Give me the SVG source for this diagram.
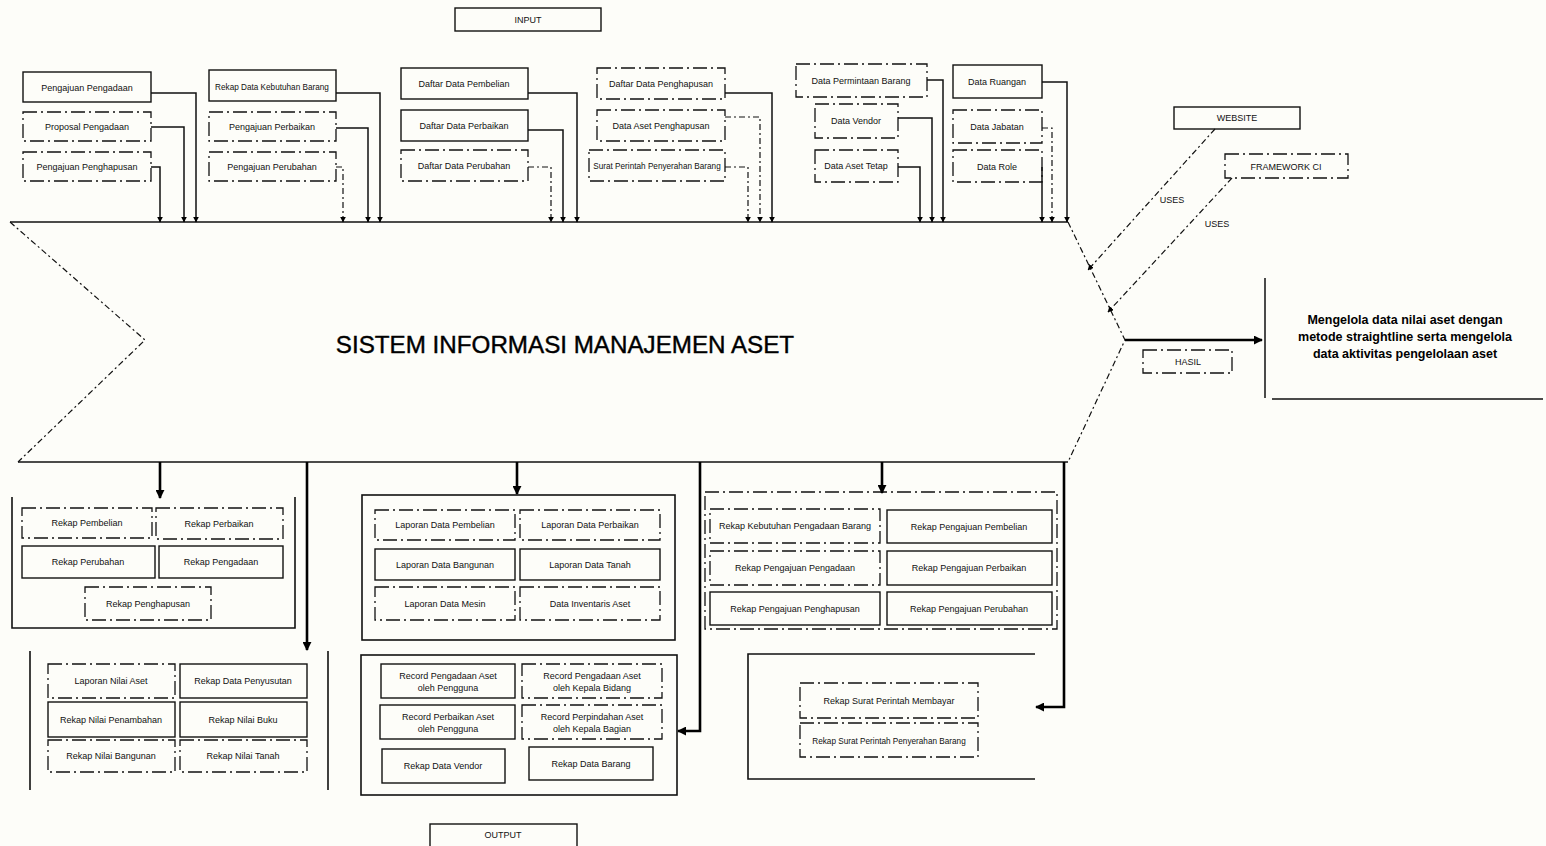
<svg xmlns="http://www.w3.org/2000/svg" width="1546" height="846" viewBox="0 0 1546 846">
<style>
.bg{fill:#fdfdf9}
.box{fill:none;stroke:#111;stroke-width:1.4}
.dbox{fill:none;stroke:#111;stroke-width:1.3;stroke-dasharray:14 4 2 4}
.grp{fill:none;stroke:#111;stroke-width:1.6}
.t{font-family:"Liberation Sans",Arial,sans-serif;font-size:9px;fill:#111;text-anchor:middle}
.ts{font-size:8.2px}
.tb{font-family:"Liberation Sans",Arial,sans-serif;font-size:12.5px;font-weight:bold;fill:#000;text-anchor:middle}
.ttl{font-family:"Liberation Sans",Arial,sans-serif;font-size:24.2px;fill:#000;stroke:#000;stroke-width:0.4;text-anchor:middle}
.c{fill:none;stroke:#111;stroke-width:1.5}
.cd{fill:none;stroke:#111;stroke-width:1.2;stroke-dasharray:6 3 2 3}
.ct{fill:none;stroke:#000;stroke-width:2.6}
</style>
<defs>
<marker id="ah" viewBox="0 0 10 10" refX="9" refY="5" markerWidth="6" markerHeight="6" orient="auto" markerUnits="userSpaceOnUse"><path d="M0,0 L10,5 L0,10 z" fill="#000"/></marker>
<marker id="ahb" viewBox="0 0 10 10" refX="9" refY="5" markerWidth="9" markerHeight="9" orient="auto" markerUnits="userSpaceOnUse"><path d="M0,0 L10,5 L0,10 z" fill="#000"/></marker>
</defs>
<rect class="bg" x="0" y="0" width="1546" height="846"/>

<g id="main-system">
<path class="c" d="M10,222 H1068"/>
<path class="c" d="M18,462 H1068"/>
<path class="cd" d="M10,222 L145,340 L18,462"/>
<path class="cd" d="M1068,222 L1125,340 L1068,462"/>
<text class="ttl" x="565" y="353">SISTEM INFORMASI MANAJEMEN ASET</text>
</g>

<g id="input"><rect class="box" x="455" y="8" width="146" height="23"/><text class="t" x="528" y="23">INPUT</text></g>
<g id="output"><rect class="box" x="430" y="824" width="147" height="26"/><text class="t" x="503" y="838">OUTPUT</text></g>
<g id="website"><rect class="box" x="1174" y="107" width="126" height="22"/><text class="t" x="1237" y="121">WEBSITE</text></g>
<g id="framework"><rect class="dbox" x="1225" y="154" width="123" height="24"/><text class="t" x="1286" y="170">FRAMEWORK CI</text></g>
<g id="hasil"><rect class="dbox" x="1143" y="350" width="89" height="23"/><text class="t" x="1188" y="365">HASIL</text></g>
<g id="tujuan">
<path class="c" d="M1265,278 V398 M1272,399 H1543"/>
<text class="tb" x="1405" y="324">Mengelola data nilai aset dengan</text>
<text class="tb" x="1405" y="341">metode straightline serta mengelola</text>
<text class="tb" x="1405" y="358">data aktivitas pengelolaan aset</text>
</g>

<g id="input-nodes">
<g id="n-pengajuan-pengadaan"><rect class="box" x="23" y="72" width="128" height="30"/><text class="t" x="87" y="91">Pengajuan Pengadaan</text></g>
<g id="n-proposal-pengadaan"><rect class="dbox" x="23" y="112" width="128" height="29"/><text class="t" x="87" y="130">Proposal Pengadaan</text></g>
<g id="n-pengajuan-penghapusan"><rect class="dbox" x="23" y="152" width="128" height="29"/><text class="t" x="87" y="170">Pengajuan Penghapusan</text></g>

<g id="n-rekap-kebutuhan"><rect class="box" x="209" y="70" width="127" height="31"/><text class="t ts" x="272" y="90">Rekap Data Kebutuhan Barang</text></g>
<g id="n-pengajuan-perbaikan"><rect class="dbox" x="209" y="112" width="127" height="29"/><text class="t" x="272" y="130">Pengajuan Perbaikan</text></g>
<g id="n-pengajuan-perubahan"><rect class="dbox" x="209" y="152" width="127" height="29"/><text class="t" x="272" y="170">Pengajuan Perubahan</text></g>

<g id="n-daftar-pembelian"><rect class="box" x="401" y="68" width="127" height="31"/><text class="t" x="464" y="87">Daftar Data Pembelian</text></g>
<g id="n-daftar-perbaikan"><rect class="box" x="401" y="110" width="127" height="31"/><text class="t" x="464" y="129">Daftar Data Perbaikan</text></g>
<g id="n-daftar-perubahan"><rect class="dbox" x="401" y="150" width="127" height="31"/><text class="t" x="464" y="169">Daftar Data Perubahan</text></g>

<g id="n-daftar-penghapusan"><rect class="dbox" x="597" y="68" width="128" height="31"/><text class="t" x="661" y="87">Daftar Data Penghapusan</text></g>
<g id="n-data-aset-penghapusan"><rect class="dbox" x="597" y="110" width="128" height="31"/><text class="t" x="661" y="129">Data Aset Penghapusan</text></g>
<g id="n-surat-perintah"><rect class="dbox" x="589" y="150" width="136" height="31"/><text class="t ts" x="657" y="169">Surat Perintah Penyerahan Barang</text></g>

<g id="n-data-permintaan"><rect class="dbox" x="796" y="64" width="131" height="33"/><text class="t" x="861" y="84">Data Permintaan Barang</text></g>
<g id="n-data-vendor"><rect class="dbox" x="815" y="104" width="83" height="34"/><text class="t" x="856" y="124">Data Vendor</text></g>
<g id="n-data-aset-tetap"><rect class="dbox" x="815" y="150" width="83" height="32"/><text class="t" x="856" y="169">Data Aset Tetap</text></g>

<g id="n-data-ruangan"><rect class="box" x="953" y="65" width="89" height="33"/><text class="t" x="997" y="85">Data Ruangan</text></g>
<g id="n-data-jabatan"><rect class="dbox" x="953" y="110" width="89" height="33"/><text class="t" x="997" y="130">Data Jabatan</text></g>
<g id="n-data-role"><rect class="dbox" x="953" y="150" width="89" height="32"/><text class="t" x="997" y="170">Data Role</text></g>
</g>

<g id="output-nodes">
<g id="g-rekap-1">
<path class="grp" d="M12,497 V628 H295 V497"/>
<rect class="dbox" x="22" y="508" width="130" height="30"/><text class="t" x="87" y="526">Rekap Pembelian</text>
<rect class="dbox" x="156" y="508" width="127" height="31"/><text class="t" x="219" y="527">Rekap Perbaikan</text>
<rect class="box" x="22" y="546" width="133" height="32"/><text class="t" x="88" y="565">Rekap Perubahan</text>
<rect class="box" x="159" y="546" width="124" height="32"/><text class="t" x="221" y="565">Rekap Pengadaan</text>
<rect class="dbox" x="85" y="587" width="126" height="33"/><text class="t" x="148" y="607">Rekap Penghapusan</text>
</g>
<g id="g-nilai">
<path class="grp" d="M30,651 V790 M328,651 V790"/>
<rect class="dbox" x="48" y="664" width="127" height="34"/><text class="t" x="111" y="684">Laporan Nilai Aset</text>
<rect class="box" x="180" y="664" width="127" height="34"/><text class="t" x="243" y="684">Rekap Data Penyusutan</text>
<rect class="box" x="48" y="702" width="127" height="35"/><text class="t" x="111" y="723">Rekap Nilai Penambahan</text>
<rect class="box" x="180" y="702" width="127" height="35"/><text class="t" x="243" y="723">Rekap Nilai Buku</text>
<rect class="dbox" x="48" y="740" width="127" height="32"/><text class="t" x="111" y="759">Rekap Nilai Bangunan</text>
<rect class="dbox" x="180" y="740" width="127" height="32"/><text class="t" x="243" y="759">Rekap Nilai Tanah</text>
</g>
<g id="g-laporan">
<rect class="grp" x="362" y="495" width="313" height="145"/>
<rect class="dbox" x="375" y="510" width="140" height="30"/><text class="t" x="445" y="528">Laporan Data Pembelian</text>
<rect class="dbox" x="520" y="510" width="140" height="30"/><text class="t" x="590" y="528">Laporan Data Perbaikan</text>
<rect class="box" x="375" y="549" width="140" height="31"/><text class="t" x="445" y="568">Laporan Data Bangunan</text>
<rect class="box" x="520" y="549" width="140" height="31"/><text class="t" x="590" y="568">Laporan Data Tanah</text>
<rect class="dbox" x="375" y="587" width="140" height="33"/><text class="t" x="445" y="607">Laporan Data Mesin</text>
<rect class="dbox" x="520" y="587" width="140" height="33"/><text class="t" x="590" y="607">Data Inventaris Aset</text>
</g>
<g id="g-record">
<rect class="grp" x="361" y="655" width="316" height="140"/>
<rect class="box" x="381" y="664" width="134" height="34"/><text class="t" x="448" y="679">Record Pengadaan Aset</text><text class="t" x="448" y="691">oleh Pengguna</text>
<rect class="dbox" x="522" y="664" width="140" height="34"/><text class="t" x="592" y="679">Record Pengadaan Aset</text><text class="t" x="592" y="691">oleh Kepala Bidang</text>
<rect class="box" x="380" y="705" width="135" height="34"/><text class="t" x="448" y="720">Record Perbaikan Aset</text><text class="t" x="448" y="732">oleh Pengguna</text>
<rect class="dbox" x="522" y="705" width="140" height="34"/><text class="t" x="592" y="720">Record Perpindahan Aset</text><text class="t" x="592" y="732">oleh Kepala Bagian</text>
<rect class="box" x="382" y="749" width="123" height="34"/><text class="t" x="443" y="769">Rekap Data Vendor</text>
<rect class="box" x="529" y="747" width="124" height="33"/><text class="t" x="591" y="767">Rekap Data Barang</text>
</g>
<g id="g-pengajuan">
<rect class="dbox" x="705" y="492" width="352" height="137"/>
<rect class="dbox" x="710" y="509" width="170" height="34"/><text class="t" x="795" y="529">Rekap Kebutuhan Pengadaan Barang</text>
<rect class="box" x="887" y="510" width="165" height="33"/><text class="t" x="969" y="530">Rekap Pengajuan Pembelian</text>
<rect class="dbox" x="710" y="551" width="170" height="34"/><text class="t" x="795" y="571">Rekap Pengajuan Pengadaan</text>
<rect class="box" x="887" y="551" width="165" height="34"/><text class="t" x="969" y="571">Rekap Pengajuan Perbaikan</text>
<rect class="box" x="710" y="592" width="170" height="33"/><text class="t" x="795" y="612">Rekap Pengajuan Penghapusan</text>
<rect class="box" x="887" y="592" width="165" height="33"/><text class="t" x="969" y="612">Rekap Pengajuan Perubahan</text>
</g>
<g id="g-surat">
<path class="grp" d="M1035,654 H748 V779 H1035"/>
<rect class="dbox" x="800" y="683" width="178" height="35"/><text class="t" x="889" y="704">Rekap Surat Perintah Membayar</text>
<rect class="dbox" x="800" y="723" width="178" height="34"/><text class="t ts" x="889" y="744">Rekap Surat Perintah Penyerahan Barang</text>
</g>
</g>

<g id="connectors">
<path class="c" marker-end="url(#ah)" d="M151,93 H196 V222"/>
<path class="c" marker-end="url(#ah)" d="M151,127 H184 V222"/>
<path class="c" marker-end="url(#ah)" d="M151,167 H160 V222"/>
<path class="c" marker-end="url(#ah)" d="M336,93 H380 V222"/>
<path class="c" marker-end="url(#ah)" d="M336,128 H368 V222"/>
<path class="cd" marker-end="url(#ah)" d="M336,167 H343 V222"/>
<path class="c" marker-end="url(#ah)" d="M528,93 H577 V222"/>
<path class="c" marker-end="url(#ah)" d="M528,130 H563 V222"/>
<path class="cd" marker-end="url(#ah)" d="M528,167 H551 V222"/>
<path class="c" marker-end="url(#ah)" d="M725,93 H772 V222"/>
<path class="cd" marker-end="url(#ah)" d="M725,117 H760 V222"/>
<path class="cd" marker-end="url(#ah)" d="M725,167 H748 V222"/>
<path class="c" marker-end="url(#ah)" d="M927,80 H943 V222"/>
<path class="c" marker-end="url(#ah)" d="M898,118 H932 V222"/>
<path class="c" marker-end="url(#ah)" d="M898,167 H920 V222"/>
<path class="c" marker-end="url(#ah)" d="M1042,82 H1067 V222"/>
<path class="cd" marker-end="url(#ah)" d="M1042,128 H1052 V222"/>
<path class="c" marker-end="url(#ah)" d="M1042,167 V222"/>

<path class="cd" marker-end="url(#ah)" d="M1215,129 L1088,270"/>
<path class="cd" marker-end="url(#ah)" d="M1232,178 L1108,312"/>
<text class="t" x="1172" y="203">USES</text>
<text class="t" x="1217" y="227">USES</text>
<path class="ct" marker-end="url(#ahb)" d="M1125,340 H1262"/>

<path class="ct" marker-end="url(#ahb)" d="M160,462 V498"/>
<path class="ct" marker-end="url(#ahb)" d="M307,462 V650"/>
<path class="ct" marker-end="url(#ahb)" d="M517,462 V494"/>
<path class="ct" marker-end="url(#ahb)" d="M700,462 V731 H678"/>
<path class="ct" marker-end="url(#ahb)" d="M882,462 V493"/>
<path class="ct" marker-end="url(#ahb)" d="M1064,462 V707 H1036"/>
</g>
</svg>
